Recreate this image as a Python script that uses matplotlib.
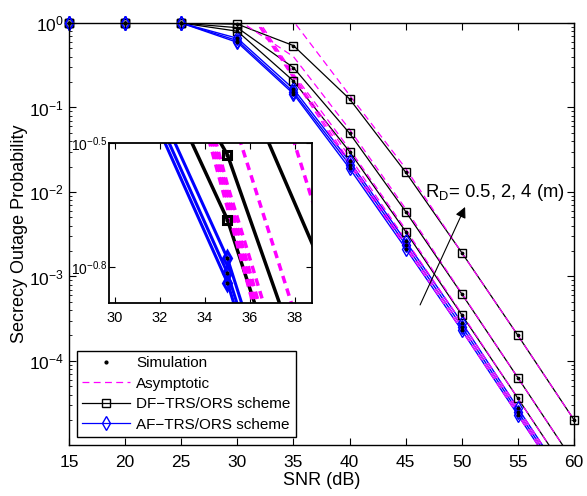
import numpy as np
import matplotlib
matplotlib.use('Agg')
import matplotlib.pyplot as plt
from matplotlib.lines import Line2D
from matplotlib.ticker import FixedLocator

plt.rcParams['font.family'] = ['Liberation Sans', 'DejaVu Sans']
plt.rcParams['mathtext.fontset'] = 'custom'
plt.rcParams['mathtext.rm'] = 'Liberation Sans'
plt.rcParams['mathtext.it'] = 'Liberation Sans:italic'
plt.rcParams['mathtext.default'] = 'regular'

# ------------------------------------------------------
# data

snr = np.array([15, 20, 25, 30, 35, 40, 45, 50, 55, 60])

# DF-TRS/ORS, R_D = 4, 2, 0.5 (m)
df_1 = np.array([1, 1, 1, 0.97, 0.54, 0.126, 0.0171, 1.91e-3, 2.0e-4, 2.0e-5])
df_2 = np.array([1, 1, 1, 0.88, 0.296, 0.0495, 5.85e-3, 6.2e-4, 6.3e-5, 6.3e-6])
df_3 = np.array([1, 1, 1, 0.80, 0.206, 0.030, 3.39e-3, 3.5e-4, 3.6e-5, 3.6e-6])

# AF-TRS/ORS
af_1 = np.array([1, 1, 1, 0.66, 0.166, 0.023, 2.61e-3, 2.84e-4, 2.75e-5, 2.75e-6])
af_2 = np.array([1, 1, 1, 0.62, 0.153, 0.021, 2.37e-3, 2.55e-4, 2.5e-5, 2.5e-6])
af_3 = np.array([1, 1, 1, 0.59, 0.145, 0.019, 2.14e-3, 2.3e-4, 2.28e-5, 2.28e-6])

# asymptotic curves
snr_asy = np.array([30, 35, 40, 45, 50, 55, 60])
asy_df_1 = np.array([6.0, 1.05, 0.14, 0.019, 1.9e-3, 2.0e-4, 2.0e-5])
asy_df_2 = np.array([1.1, 0.40, 0.055, 6.3e-3, 6.3e-4, 6.3e-5, 6.3e-6])
asy_df_3 = np.array([2.6, 0.25, 0.032, 3.6e-3, 3.6e-4, 3.6e-5, 3.6e-6])
asy_af_1 = np.array([2.4, 0.24, 0.026, 2.7e-3, 2.85e-4, 2.75e-5, 2.75e-6])
asy_af_2 = np.array([2.3, 0.23, 0.023, 2.4e-3, 2.55e-4, 2.5e-5, 2.5e-6])
asy_af_3 = np.array([2.2, 0.22, 0.021, 2.2e-3, 2.3e-4, 2.28e-5, 2.28e-6])

xticks = [15, 20, 25, 30, 35, 40, 45, 50, 55, 60]
yticks = [1e-4, 1e-3, 1e-2, 1e-1, 1e0]
inset_xticks = [30, 32, 34, 36, 38]
inset_yticks = [10**-0.8, 10**-0.5]
inset_ylabels = [r'$10^{-0.8}$', r'$10^{-0.5}$']

df_curves = [df_1, df_2, df_3]
af_curves = [af_1, af_2, af_3]
asy_curves = [asy_df_1, asy_df_2, asy_df_3, asy_af_1, asy_af_2, asy_af_3]

mag = (1, 0, 1)
ymin = 1e-5


def draw(ax, lw, blw, ms, mew, dots, dash, clip):
    for y in df_curves:
        ax.plot(snr, y, '-', color='k', lw=lw)
    for y in af_curves:
        ax.plot(snr, y, '-', color='b', lw=blw)
    for y in asy_curves:
        ax.plot(snr_asy, y, '--', color=mag, lw=lw, dashes=dash)
    # markers drawn unclipped like matlab
    for y in df_curves:
        ym = np.ma.masked_less(y, ymin)
        ax.plot(snr, ym, 's', mfc='none', mec='k', ms=ms, mew=mew, clip_on=clip)
    for y in af_curves:
        ym = np.ma.masked_less(y, ymin)
        ax.plot(snr, ym, 'd', mfc='none', mec='b', ms=ms + 1, mew=mew, clip_on=clip)
    for y in df_curves + af_curves:
        ym = np.ma.masked_less(y, ymin)
        ax.plot(snr, ym, '.', color='k', ms=dots, clip_on=clip)


fig = plt.figure(figsize=(5.87, 4.96), dpi=100)
main = fig.add_axes([0.1175, 0.102, 0.8605, 0.8516])
draw(main, 0.9, 1.0, 6, 1.0, 3.5, (5.5, 3.5), False)

main.set_yscale('log')
main.set_xlim(15, 60)
main.set_ylim(1e-5, 1)
main.set_xticks(xticks)
main.yaxis.set_major_locator(FixedLocator(yticks))
main.tick_params(which='both', direction='in', top=True, right=True, labelsize=12.5)
main.tick_params(which='major', length=5)
main.tick_params(which='minor', length=2.5)
main.tick_params(axis='x', pad=7)
main.set_xlabel('SNR (dB)', fontsize=13, labelpad=1)
main.set_ylabel('Secrecy Outage Probability', fontsize=13, labelpad=0.5)
for s in main.spines.values():
    s.set_linewidth(1.0)

main.annotate('', xy=(50.29, 6.65e-3), xytext=(46.28, 4.6e-4),
              arrowprops=dict(arrowstyle='-|>', lw=0.8, color='k',
                              mutation_scale=16, shrinkA=0, shrinkB=0))
main.text(46.75, 8.7e-3, r'R$_{D}$= 0.5, 2, 4 (m)', fontsize=13.3, va='baseline')

handles = [Line2D([], [], ls='none', marker='.', color='k', ms=4),
           Line2D([], [], ls='--', color=mag, lw=0.9, dashes=(5.5, 3.5)),
           Line2D([], [], ls='-', color='k', lw=0.9, marker='s', mfc='none', ms=6),
           Line2D([], [], ls='-', color='b', lw=0.9, marker='d', mfc='none', ms=7)]
labels = ['Simulation', 'Asymptotic', 'DF\u2212TRS/ORS scheme', 'AF\u2212TRS/ORS scheme']
leg = main.legend(handles, labels, loc='lower left', bbox_to_anchor=(0.016, 0.02),
                  borderaxespad=0, fontsize=11, handlelength=3.1, handletextpad=0.4,
                  labelspacing=0.42, borderpad=0.35, fancybox=False, framealpha=1)
leg.get_frame().set_edgecolor('k')
leg.get_frame().set_linewidth(1.0)

# inset zoom
ins = fig.add_axes([0.1857, 0.389, 0.3458, 0.3227])
draw(ins, 2.5, 2.2, 6, 2.2, 4, (2.2, 1.6), True)
ins.set_yscale('log')
ins.set_xlim(29.73, 38.76)
ins.set_ylim(10**-0.888, 10**-0.5)
ins.set_xticks(inset_xticks)
ins.set_yticks(inset_yticks)
ins.set_yticklabels(inset_ylabels)
ins.minorticks_off()
ins.tick_params(which='both', direction='in', top=True, right=True, length=4)
ins.tick_params(axis='x', labelsize=10.5, pad=6)
ins.tick_params(axis='y', labelsize=10, pad=1)
for s in ins.spines.values():
    s.set_linewidth(1.3)

fig.savefig('out.png', dpi=100)
